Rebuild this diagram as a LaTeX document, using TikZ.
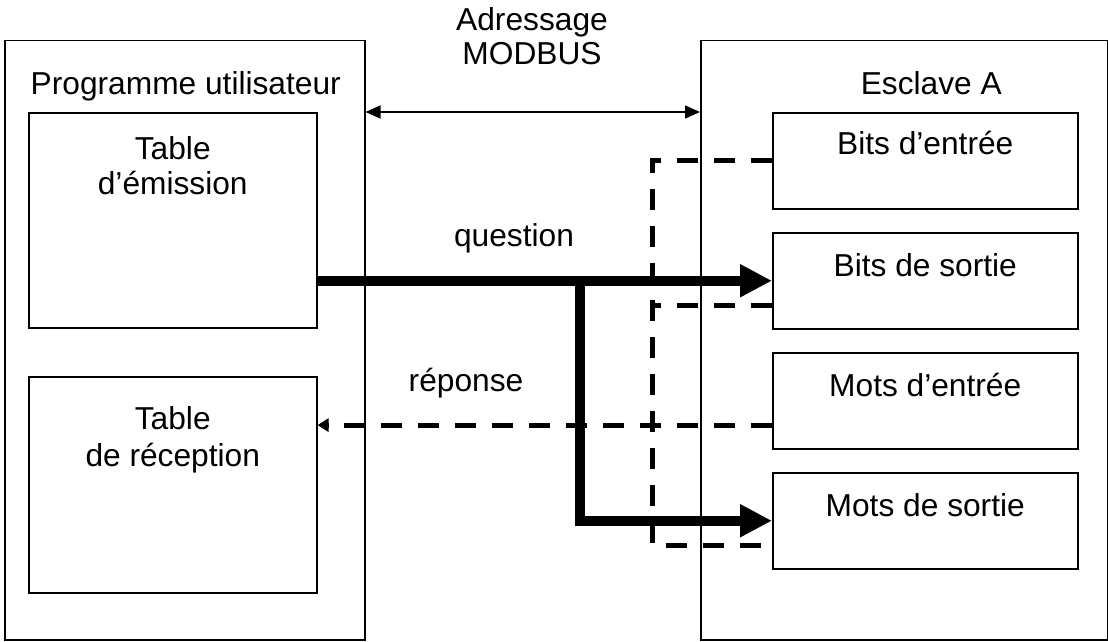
\documentclass[tikz,border=0pt]{standalone}
\usepackage{fontspec}
\setmainfont{Liberation Sans}
\usetikzlibrary{arrows.meta}
\usetikzlibrary{calc}

\tikzset{
	box/.style={draw,line width=1.5pt,inner sep=0pt,anchor=north west},
	txt/.style={anchor=base,inner sep=0pt,font=\fontsize{31.7}{38}\selectfont},
	req/.style={line width=10pt,-{Triangle[length=32pt,width=31pt]}},
	ret/.style={line width=5pt,dash pattern=on 21pt off 16pt},
}

\begin{document}
\begin{tikzpicture}[>/.tip={Triangle[length=15pt,width=13pt]},x=1pt,y=-1pt]
	\useasboundingbox (0,0) rectangle (1108,642);

	% the two stations
	\draw (4,40) node (prog) [box,minimum width=360pt,minimum height=599pt] {};
	\node [txt] at ($(prog.north)+(1,55)$) {Programme utilisateur};
	\draw (700,40) node (esc) [box,minimum width=407pt,minimum height=599pt] {};
	\node [txt] at ($(esc.north)+(27,55)$) {Esclave A};

	% tables of the user program
	\draw (28,112) node (emis) [box,minimum width=288pt,minimum height=215pt] {};
	\node [txt] at ($(emis.north)+(0,47)$) {Table};
	\node [txt] at ($(emis.north)+(0,82)$) {d'émission};
	\draw (28,376) node (recep) [box,minimum width=288pt,minimum height=216pt] {};
	\node [txt] at ($(recep.north)+(0,53)$) {Table};
	\node [txt] at ($(recep.north)+(0,90)$) {de réception};

	% zones of the slave
	\draw (772,112) node (bie) [box,minimum width=305pt,minimum height=96pt] {};
	\node [txt] at ($(bie.north)+(0,42)$) {Bits d'entrée};
	\draw (772,232) node (bis) [box,minimum width=305pt,minimum height=96pt] {};
	\node [txt] at ($(bis.north)+(0,44)$) {Bits de sortie};
	\draw (772,352) node (mie) [box,minimum width=305pt,minimum height=96pt] {};
	\node [txt] at ($(mie.north)+(0,44)$) {Mots d'entrée};
	\draw (772,472) node (mis) [box,minimum width=305pt,minimum height=96pt] {};
	\node [txt] at ($(mis.north)+(0,44)$) {Mots de sortie};

	% addressing
	\node [txt] at (532,31) {Adressage};
	\node [txt] at (532,64) {MODBUS};
	\draw[<->,line width=1.5pt] (prog.east |- emis.north) -- (esc.west |- emis.north);

	% question
	\node [txt] at (514,246) {question};
	\coordinate (fork) at (580,280);
	\draw[req] (emis.east |- bis.west) -- (bis.west);
	\draw[req] (fork) |- (mis.west);

	% answer
	\node [txt] at (466,391) {réponse};
	\draw[ret] (bie.west) -| ($(mis.west)!0.5!(mis.south west)+(-120,0)$) -- ($(mis.west)!0.5!(mis.south west)$);
	\draw[ret] ($(bis.west)!0.5!(bis.south west)$) -- +(-120,0);
	\draw[ret,-{Triangle[length=11pt,width=13pt]}] ($(mie.west)!0.5!(mie.south west)$) -- (recep.east |- {$(mie.west)!0.5!(mie.south west)$});
\end{tikzpicture}
\end{document}
